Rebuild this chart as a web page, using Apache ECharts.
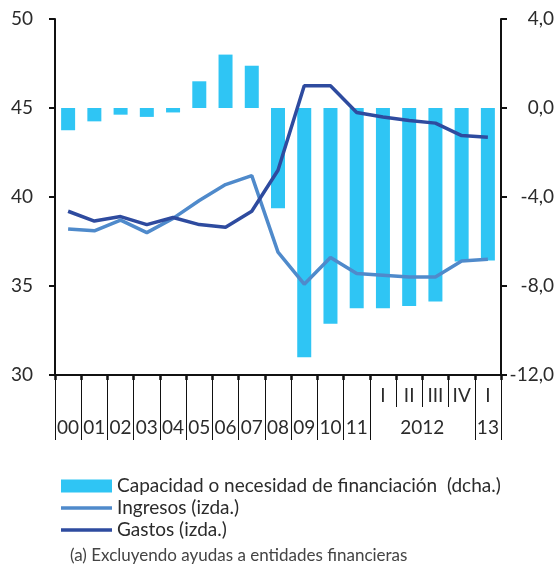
<!DOCTYPE html>
<html>
<head>
<meta charset="utf-8">
<script src="https://cdn.jsdelivr.net/npm/echarts@6/dist/echarts.min.js"></script>
<style>
html,body{margin:0;padding:0;background:#fff;}
#chart{width:557px;height:565px;}
</style>
</head>
<body>
<div id="chart"></div>
<script>
// ---- data ----
var categories = ['00','01','02','03','04','05','06','07','08','09','10','11','2012-I','2012-II','2012-III','2012-IV','2013-I'];
var yearLabels = ['00','01','02','03','04','05','06','07','08','09','10','11','','2012','','','13'];
var quarterLabels = ['','','','','','','','','','','','','I','II','III','IV','I'];
var capacidad = [-1.0,-0.6,-0.3,-0.4,-0.2,1.2,2.4,1.9,-4.5,-11.2,-9.7,-9.0,-9.0,-8.9,-8.7,-6.9,-6.85];
var ingresos = [38.2,38.1,38.7,38.0,38.8,39.8,40.7,41.2,36.9,35.1,36.6,35.7,35.6,35.5,35.5,36.4,36.5];
var gastos = [39.2,38.65,38.9,38.45,38.85,38.45,38.3,39.2,41.5,46.25,46.25,44.75,44.5,44.3,44.15,43.45,43.35];
var leftTicks = {min:30, max:50, interval:5};
var rightTicks = {min:-12, max:4, interval:4};
var names = ['Capacidad o necesidad de financiación  (dcha.)','Ingresos (izda.)','Gastos (izda.)'];
var note = '(a) Excluyendo ayudas a entidades financieras';

var FONT = 'Lato';
var TXT = '#2b2b2b';
var LINE_ICON = 'path://M0,0L51,0L51,3.5L0,3.5Z';
var chart = echarts.init(document.getElementById('chart'), null, {renderer:'canvas'});
var option = {
  animation:false,
  backgroundColor:'#fff',
  textStyle:{fontFamily:FONT},
  grid:{left:55, right:54, top:19, bottom:190, containLabel:false},
  legend:{
    orient:'vertical', left:56, top:470, itemWidth:51, itemHeight:13, itemGap:0,
    textStyle:{fontFamily:FONT, fontSize:19, color:TXT, lineHeight:22},
    data:[{name:names[0], icon:'rect'}, {name:names[1], icon:LINE_ICON}, {name:names[2], icon:LINE_ICON}]
  },
  title:{text:note, left:65, top:542, textStyle:{fontFamily:FONT, fontSize:17, fontWeight:'normal', color:'#444'}},
  xAxis:[
    {type:'category', data:categories, position:'bottom',
     axisLine:{show:true, onZero:false, lineStyle:{color:'#111', width:2}},
     axisTick:{show:true, length:65, lineStyle:{color:'#111', width:1},
       interval:function(i){ return !(i>=13 && i<=15); }},
     axisLabel:{interval:0, margin:43, fontSize:19, color:TXT, fontFamily:FONT,
       formatter:function(v, i){ var t = yearLabels[i]; return t==='2012' ? '{s|'+t+'}' : t; },
       rich:{s:{fontSize:19, color:TXT, fontFamily:FONT, padding:[0,0,0,26]}}}
    },
    {type:'category', data:categories, position:'bottom',
     axisLine:{show:false, onZero:false},
     axisTick:{show:true, length:32, lineStyle:{color:'#111', width:1},
       interval:function(i){ return i>=13 && i<=15; }},
     axisLabel:{interval:0, margin:11, fontSize:19, color:TXT, fontFamily:FONT,
       formatter:function(v, i){ return quarterLabels[i]; }}
    },
    {type:'category', data:categories, position:'bottom',
     axisLine:{show:false, onZero:false},
     axisTick:{show:true, length:5, lineStyle:{color:'#111', width:2.5}, interval:0},
     axisLabel:{show:false}
    }
  ],
  yAxis:[
    {type:'value', position:'left', min:leftTicks.min, max:leftTicks.max, interval:leftTicks.interval,
     axisLine:{show:true, lineStyle:{color:'#111', width:2}},
     axisTick:{show:true, length:6, lineStyle:{color:'#111', width:2}},
     splitLine:{show:false},
     axisLabel:{margin:22, fontSize:19, color:TXT, fontFamily:FONT}
    },
    {type:'value', position:'right', min:rightTicks.min, max:rightTicks.max, interval:rightTicks.interval,
     axisLine:{show:true, lineStyle:{color:'#111', width:2}},
     axisTick:{show:true, length:6, lineStyle:{color:'#111', width:2}},
     splitLine:{show:false},
     axisLabel:{margin:53, align:'right', fontSize:19, color:TXT, fontFamily:FONT,
       formatter:function(v){ return v.toFixed(1).replace('.', ','); }}
    }
  ],
  series:[
    {name:names[0], type:'bar', xAxisIndex:0, yAxisIndex:1, data:capacidad, barWidth:14,
     itemStyle:{color:'#2FC5F4'}, z:1},
    {name:names[1], type:'line', xAxisIndex:0, yAxisIndex:0, data:ingresos, symbol:'none',
     lineStyle:{color:'#4F8ACB', width:3.5}, itemStyle:{color:'#4F8ACB'}, z:3},
    {name:names[2], type:'line', xAxisIndex:0, yAxisIndex:0, data:gastos, symbol:'none',
     lineStyle:{color:'#2E4B9F', width:3.5}, itemStyle:{color:'#2E4B9F'}, z:4}
  ]
};
chart.setOption(option);
</script>
</body>
</html>
